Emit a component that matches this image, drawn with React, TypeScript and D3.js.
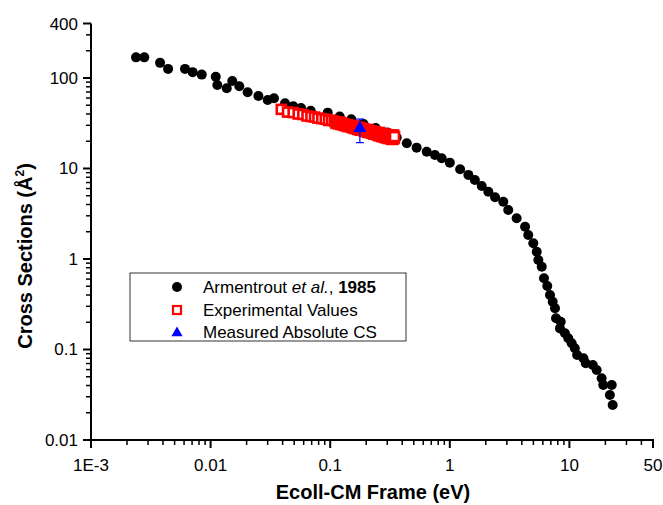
import React from "react";
import * as d3 from "d3";

// Armentrout et al., 1985: [energy (eV), cross section (Å²)]
const armentrout: [number, number][] = [
  [0.00238, 169], [0.00279, 169], [0.00378, 147], [0.00441, 126], [0.00611, 126],
  [0.00708, 116], [0.00843, 109], [0.01104, 103], [0.01138, 83.7], [0.01365, 76.9],
  [0.01517, 92.7], [0.01738, 81.0], [0.0204, 69.5], [0.0251, 63.3], [0.03, 57.1],
  [0.0339, 59.7], [0.0419, 52.5], [0.0491, 48.7], [0.057, 46.6], [0.0687, 43.5],
  [0.0953, 41.4], [0.12, 37.5], [0.15, 35], [0.19, 31], [0.24, 28], [0.3, 25],
  [0.36, 22], [0.437, 19.0], [0.528, 17.0], [0.641, 15.3], [0.751, 14.1],
  [0.855, 13.0], [1.0, 11.6], [1.22, 9.8], [1.43, 8.5], [1.62, 7.46], [1.85, 6.41],
  [2.1, 5.54], [2.39, 4.81], [2.8, 4.3], [3.08, 3.48], [3.62, 2.82], [4.26, 2.27],
  [4.53, 1.84], [4.99, 1.49], [5.33, 1.2], [5.5, 0.975], [5.87, 0.822], [6.13, 0.612],
  [6.53, 0.503], [6.88, 0.4], [7.25, 0.337], [7.58, 0.285], [7.73, 0.221], [8.46, 0.203],
  [8.34, 0.171], [9.18, 0.151], [9.79, 0.133], [10.45, 0.117], [11.1, 0.103],
  [11.6, 0.087], [13.1, 0.08], [13.7, 0.0705], [15.7, 0.0675], [16.9, 0.0593],
  [18.6, 0.0481], [19.2, 0.0405], [22.6, 0.0405], [21.8, 0.0314], [23.0, 0.0244],
];

// Experimental values
const experimental: [number, number][] = [
  [0.039, 45], [0.044, 42], [0.049, 41.5], [0.054, 40], [0.059, 39.5], [0.064, 38],
  [0.069, 37.5], [0.074, 37], [0.079, 36], [0.085, 35.5], [0.091, 35], [0.097, 34],
  [0.103, 34], [0.109, 33], [0.112, 31.5], [0.115, 32.5], [0.118, 31], [0.121, 32.5],
  [0.124, 30.5], [0.127, 31.5], [0.13, 30], [0.133, 31], [0.136, 29.5], [0.139, 30.5],
  [0.142, 29], [0.146, 30], [0.15, 28.5], [0.153, 29.5], [0.156, 28], [0.16, 29.5],
  [0.163, 27.5], [0.167, 28.5], [0.17, 27], [0.174, 28.5], [0.178, 26.5], [0.181, 28],
  [0.185, 26.5], [0.188, 27.5], [0.192, 26], [0.195, 27], [0.199, 25.5], [0.203, 27],
  [0.207, 25], [0.211, 26.5], [0.215, 25], [0.219, 26], [0.223, 24.5], [0.227, 25.5],
  [0.231, 24], [0.235, 25.5], [0.239, 24], [0.243, 25], [0.247, 23.5], [0.251, 24.5],
  [0.255, 23], [0.259, 25], [0.263, 23], [0.267, 24], [0.271, 22.5], [0.275, 24],
  [0.279, 22.5], [0.283, 23.5], [0.287, 22], [0.291, 24], [0.295, 22], [0.299, 23],
  [0.303, 21.5], [0.307, 23.5], [0.311, 21.5], [0.315, 22.5], [0.319, 21.5], [0.323, 23],
  [0.327, 21], [0.331, 22.5], [0.335, 21], [0.339, 23.5], [0.342, 21.5], [0.345, 22.5],
];

// Measured absolute CS: [energy, value, low, high]
const measured: [number, number, number, number][] = [[0.177, 27.8, 19.3, 35.2]];

const xTickValues = [0.001, 0.01, 0.1, 1, 10, 50];
const xTickLabels = ["1E-3", "0.01", "0.1", "1", "10", "50"];
const yTickValues = [0.01, 0.1, 1, 10, 100, 400];
const yTickLabels = ["0.01", "0.1", "1", "10", "100", "400"];

const W = 663;
const H = 505;
const FONT = "Arial, 'Liberation Sans', Helvetica, sans-serif";

function minorTicks(min: number, max: number): number[] {
  const out: number[] = [];
  for (let e = Math.floor(Math.log10(min)); e <= Math.ceil(Math.log10(max)); e++) {
    for (let m = 1; m <= 9; m++) {
      const v = m * Math.pow(10, e);
      if (v >= min * 0.9999 && v <= max * 1.0001) out.push(v);
    }
  }
  return out;
}

export default function App() {
  const x = d3.scaleLog().domain([0.001, 50]).range([91, 653]);
  const y = d3.scaleLog().domain([0.01, 400]).range([440, 23.5]);
  const x0 = x.range()[0];
  const y0 = y.range()[0];

  const xMinor = minorTicks(0.001, 50).filter((v) => !xTickValues.some((t) => Math.abs(t - v) / t < 1e-6));
  const yMinor = minorTicks(0.01, 400).filter((v) => !yTickValues.some((t) => Math.abs(t - v) / t < 1e-6));

  const tri = d3.symbol().type(d3.symbolTriangle).size(75)();
  const triLeg = d3.symbol().type(d3.symbolTriangle).size(55)();

  const legX = 130;
  const legY = 273;
  const rows = [287, 310, 332];

  return (
    <div style={{ position: "absolute", left: 0, top: 0 }}>
      <svg width={W} height={H} style={{ display: "block", fontFamily: FONT }}>
        <rect width={W} height={H} fill="white" />
        {/* axes */}
        <line x1={x0} x2={x0} y1={y.range()[1]} y2={y0 + 1} stroke="black" strokeWidth={2} />
        <line x1={x0 - 1} x2={x.range()[1] + 1} y1={y0} y2={y0} stroke="black" strokeWidth={2} />
        {xTickValues.map((v, i) => (
          <g key={"xt" + i}>
            <line x1={x(v)} x2={x(v)} y1={y0} y2={y0 + 8} stroke="black" strokeWidth={2} />
            <text x={x(v)} y={y0 + 31} textAnchor="middle" fontSize={17}>{xTickLabels[i]}</text>
          </g>
        ))}
        {xMinor.map((v, i) => (
          <line key={"xm" + i} x1={x(v)} x2={x(v)} y1={y0} y2={y0 + 5} stroke="black" strokeWidth={1.5} />
        ))}
        {yTickValues.map((v, i) => (
          <g key={"yt" + i}>
            <line x1={x0 - 8} x2={x0} y1={y(v)} y2={y(v)} stroke="black" strokeWidth={2} />
            <text x={x0 - 13} y={y(v) + 6} textAnchor="end" fontSize={17}>{yTickLabels[i]}</text>
          </g>
        ))}
        {yMinor.map((v, i) => (
          <line key={"ym" + i} x1={x0 - 5} x2={x0} y1={y(v)} y2={y(v)} stroke="black" strokeWidth={1.5} />
        ))}
        {/* axis titles */}
        <text x={(x.range()[0] + x.range()[1]) / 2 + 1} y={499} textAnchor="middle" fontSize={20} fontWeight="bold">
          Ecoll-CM Frame (eV)
        </text>
        <text transform={`translate(32, 256) rotate(-90)`} textAnchor="middle" fontSize={20} fontWeight="bold">
          Cross Sections (Å<tspan dy={-8} fontSize={12}>2</tspan><tspan dy={8}>)</tspan>
        </text>
        {/* data */}
        {armentrout.map(([a, b], i) => (
          <circle key={"a" + i} cx={x(a)} cy={y(b)} r={5} fill="black" />
        ))}
        {experimental.map(([a, b], i) => (
          <rect key={"e" + i} x={x(a) - 4.5} y={y(b) - 4.5} width={9} height={9} fill="white" stroke="#ff0000" strokeWidth={2.6} />
        ))}
        {measured.map(([a, b, lo, hi], i) => (
          <g key={"m" + i}>
            <line x1={x(a)} x2={x(a)} y1={y(lo)} y2={y(hi)} stroke="blue" strokeWidth={1.2} />
            <line x1={x(a) - 4} x2={x(a) + 4} y1={y(lo)} y2={y(lo)} stroke="blue" strokeWidth={1.2} />
            <line x1={x(a) - 4} x2={x(a) + 4} y1={y(hi)} y2={y(hi)} stroke="blue" strokeWidth={1.2} />
            <path d={tri!} transform={`translate(${x(a)},${y(b)})`} fill="blue" />
          </g>
        ))}
        {/* legend */}
        <rect x={legX} y={legY} width={276} height={68} fill="white" stroke="#333" strokeWidth={1} />
        <circle cx={177} cy={rows[0]} r={5} fill="black" />
        <rect x={173} y={rows[1] - 4} width={8} height={8} fill="white" stroke="#ff0000" strokeWidth={2.2} />
        <path d={triLeg!} transform={`translate(177,${rows[2] + 1})`} fill="blue" />
        <text x={203} y={rows[0] + 6} fontSize={17}>
          Armentrout <tspan fontStyle="italic">et al.</tspan>, <tspan fontWeight="bold">1985</tspan>
        </text>
        <text x={203} y={rows[1] + 6} fontSize={17}>Experimental Values</text>
        <text x={203} y={rows[2] + 6} fontSize={17}>Measured Absolute CS</text>
      </svg>
    </div>
  );
}
